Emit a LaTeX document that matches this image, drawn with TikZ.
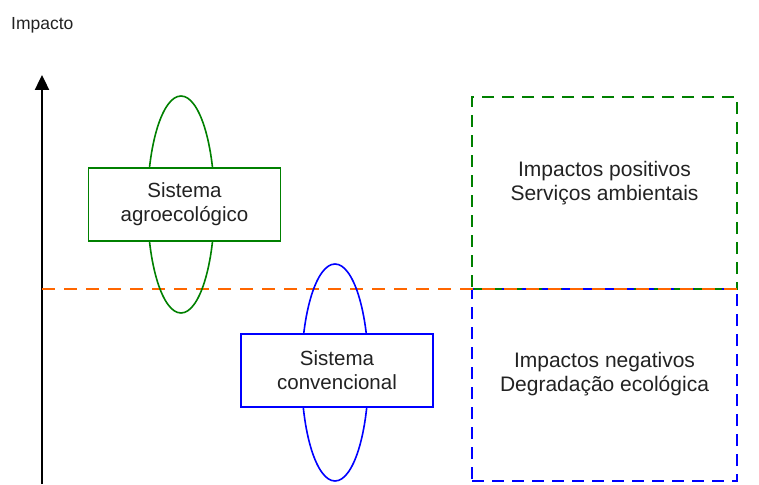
\documentclass[tikz,border=0pt]{standalone}
\usepackage{fontspec}
\setmainfont{Liberation Sans}
\usepackage{tikz}
\usetikzlibrary{arrows.meta, positioning, shapes.geometric}
\usepackage{xcolor}
\definecolor{agrogreen}{RGB}{0,128,0}
\definecolor{convblue}{RGB}{0,0,255}
\definecolor{zeroorange}{RGB}{255,102,0}
\definecolor{txtgray}{RGB}{34,34,34}
\tikzstyle{sysbox}   = [rectangle, minimum width=192, minimum height=73, line width=1.6pt,
    fill=white, align=center, text=txtgray, font=\fontsize{20.5}{24}\selectfont]
\tikzstyle{rangeell} = [ellipse, minimum width=67, minimum height=217, inner sep=0pt, line width=1.6pt]
\tikzstyle{zone}     = [rectangle, minimum width=265, minimum height=192, line width=1.8pt,
    dash pattern=on 12pt off 8pt]
\tikzstyle{zonetext} = [align=center, text=txtgray, font=\fontsize{21}{24}\selectfont]
\tikzstyle{axis}     = [line width=2.4pt, -{Triangle[length=15pt, width=14pt]}]

\begin{document}
\begin{tikzpicture}[x=1pt, y=1pt]
    \useasboundingbox (0,0) rectangle (759,-484);
    \node (title) [anchor=west, text=txtgray, font=\fontsize{17.5}{20}\selectfont, inner sep=0pt] at (11,-25) {Impacto};

    % axis
    \coordinate (axisbot) at (42,-484);
    \coordinate (axistop) at (42,-75);
    \draw [axis] (axisbot) -- (axistop);

    % zones
    \node (pos) [zone, draw=agrogreen] at (604.5,-193) {};
    \node (neg) [zone, draw=convblue]  at (604.5,-385) {};
    \node (posTxt) [zonetext] at ([yshift=10pt]pos.center) {Impactos positivos\\Serviços ambientais};
    \node (negTxt) [zonetext] at ([yshift=11pt]neg.center) {Impactos negativos\\Degradação ecológica};

    % zero line
    \coordinate (zeroL) at (42,-289);
    \coordinate (zeroR) at (737,-289);
    \draw [zeroorange, line width=1.8pt, dash pattern=on 13pt off 9pt] (zeroL) -- (zeroR);

    % systems
    \node (agroell) [rangeell, draw=agrogreen] at (181,-204.5) {};
    \node (agro)    [sysbox, draw=agrogreen] at (184.5,-204.5) {Sistema\\agroecológico};
    \node (convell) [rangeell, draw=convblue] at (335,-372.5) {};
    \node (conv)    [sysbox, draw=convblue] at (337,-370.5) {Sistema\\convencional};
\end{tikzpicture}
\end{document}
